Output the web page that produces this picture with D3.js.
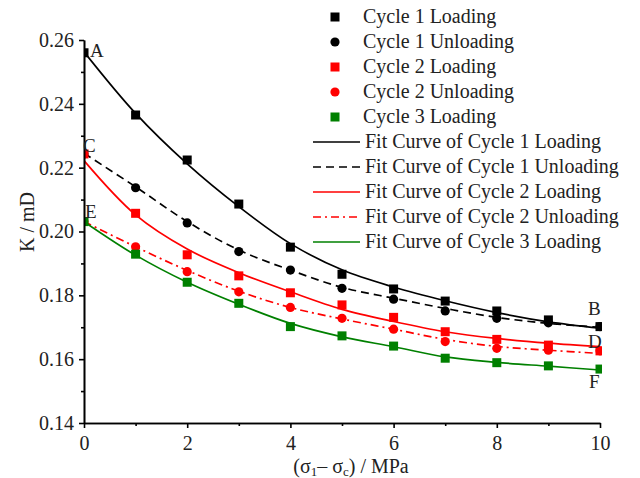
<!DOCTYPE html>
<html>
<head>
<meta charset="utf-8">
<script src="https://cdn.jsdelivr.net/npm/d3@7"></script>
<style>
  body { margin: 0; background: white; }
  text { font-family: "Liberation Serif", "Times New Roman", serif; }
</style>
</head>
<body>
<div id="chart"></div>
<script>
var width = 640
var height = 478
var margin = {top: 40, right: 40, bottom: 55, left: 84}

// Data

var stress = [0, 1, 2, 3, 4, 5, 6, 7, 8, 9, 10];

var c1Load   = [0.2560, 0.2365, 0.2224, 0.2086, 0.1951, 0.1866, 0.1820, 0.1782, 0.1751, 0.1723, 0.1702];
var c1Unload = [0.2243, 0.2137, 0.2027, 0.1937, 0.1879, 0.1822, 0.1788, 0.1751, 0.1728, 0.1714, 0.1702];
var c2Load   = [0.2243, 0.2057, 0.1927, 0.1861, 0.1808, 0.1770, 0.1731, 0.1686, 0.1662, 0.1644, 0.1626];
var c2Unload = [0.2031, 0.1952, 0.1874, 0.1811, 0.1762, 0.1728, 0.1694, 0.1655, 0.1634, 0.1628, 0.1626];
var c3Load   = [0.2031, 0.1929, 0.1841, 0.1775, 0.1702, 0.1673, 0.1641, 0.1603, 0.1589, 0.1579, 0.1569];

// fit curves at each integer stress
var fitC1Load   = [0.2563, 0.2370, 0.2212, 0.2078, 0.1962, 0.1880, 0.1826, 0.1783, 0.1746, 0.1717, 0.1697];
var fitC1Unload = [0.2245, 0.2140, 0.2031, 0.1942, 0.1879, 0.1825, 0.1791, 0.1759, 0.1731, 0.1712, 0.1700];
var fitC2Load   = [0.2222, 0.2052, 0.1945, 0.1871, 0.1811, 0.1756, 0.1718, 0.1686, 0.1665, 0.1650, 0.1639];
var fitC2Unload = [0.2031, 0.1952, 0.1878, 0.1813, 0.1762, 0.1726, 0.1694, 0.1662, 0.1640, 0.1628, 0.1618];
var fitC3Load   = [0.2031, 0.1926, 0.1841, 0.1772, 0.1712, 0.1670, 0.1639, 0.1607, 0.1590, 0.1578, 0.1566];

var xTicks = [0, 2, 4, 6, 8, 10];
var xMinor = [1, 3, 5, 7, 9];
var yTicks = [0.14, 0.16, 0.18, 0.20, 0.22, 0.24, 0.26];
var yMinor = [0.15, 0.17, 0.19, 0.21, 0.23, 0.25];

var pointSeries = [
    {name: "Cycle 1 Loading",   values: c1Load,   color: "black",   shape: "square"},
    {name: "Cycle 1 Unloading", values: c1Unload, color: "black",   shape: "circle"},
    {name: "Cycle 2 Loading",   values: c2Load,   color: "#ff0000", shape: "square"},
    {name: "Cycle 2 Unloading", values: c2Unload, color: "#ff0000", shape: "circle"},
    {name: "Cycle 3 Loading",   values: c3Load,   color: "#008000", shape: "square"}
];
var fitSeries = [
    {name: "Fit Curve of Cycle 1 Loading",   values: fitC1Load,   color: "black",   dash: null},
    {name: "Fit Curve of Cycle 1 Unloading", values: fitC1Unload, color: "black",   dash: "8,5"},
    {name: "Fit Curve of Cycle 2 Loading",   values: fitC2Load,   color: "#ff0000", dash: null},
    {name: "Fit Curve of Cycle 2 Unloading", values: fitC2Unload, color: "#ff0000", dash: "8,4,2,4"},
    {name: "Fit Curve of Cycle 3 Loading",   values: fitC3Load,   color: "#008000", dash: null}
];
var pointLabels = [
    {text: "A", x: 0,  y: 0.2563, dx: 6,   dy: 5},
    {text: "C", x: 0,  y: 0.2243, dx: -1,  dy: -2},
    {text: "E", x: 0,  y: 0.2031, dx: 1,   dy: -4},
    {text: "B", x: 10, y: 0.1702, dx: -12, dy: -12},
    {text: "D", x: 10, y: 0.1626, dx: -12, dy: -3},
    {text: "F", x: 10, y: 0.1569, dx: -11, dy: 19}
];

// Scales

var x_scale = d3.scaleLinear()
    .domain([0, 10])
    .range([margin.left, width - margin.right]);

var y_scale = d3.scaleLinear()
    .domain([0.14, 0.26])
    .range([height - margin.bottom, margin.top]);

var svg = d3.select("#chart")
    .append("svg")
    .attr("width", width)
    .attr("height", height)
    .style("background-color", "white");

svg.append("clipPath")
    .attr("id", "plot-clip")
    .append("rect")
    .attr("x", margin.left)
    .attr("y", margin.top - 2)
    .attr("width", x_scale(10) - margin.left + 2)
    .attr("height", y_scale(0.14) - margin.top + 2);

var plot = svg.append("g").attr("clip-path", "url(#plot-clip)");

// Fit curves

var line = d3.line()
    .x(function(d, i) { return x_scale(stress[i]); })
    .y(function(d) { return y_scale(d); })
    .curve(d3.curveCatmullRom);

plot.selectAll("path.fit")
    .data(fitSeries)
    .enter()
    .append("path")
    .attr("class", "fit")
    .attr("d", function(d) { return line(d.values); })
    .attr("fill", "none")
    .attr("stroke", function(d) { return d.color; })
    .attr("stroke-width", 1.7)
    .attr("stroke-dasharray", function(d) { return d.dash; });

// Points

var sq = 9;
var rad = 4.6;

function drawMarker(g, shape, color, cx, cy) {
    if (shape === "square") {
        g.append("rect")
            .attr("x", cx - sq / 2)
            .attr("y", cy - sq / 2)
            .attr("width", sq)
            .attr("height", sq)
            .attr("fill", color);
    } else {
        g.append("circle")
            .attr("cx", cx)
            .attr("cy", cy)
            .attr("r", rad)
            .attr("fill", color);
    }
}

pointSeries.forEach(function(s) {
    var g = plot.append("g");
    s.values.forEach(function(v, i) {
        drawMarker(g, s.shape, s.color, x_scale(stress[i]), y_scale(v));
    });
});

// Axes

var xAxis = d3.axisBottom(x_scale).tickValues(xTicks).tickSize(5).tickSizeOuter(0).tickFormat(d3.format("d"));
var xAxisMinor = d3.axisBottom(x_scale).tickValues(xMinor).tickSize(3).tickSizeOuter(0).tickFormat("");
var yAxis = d3.axisLeft(y_scale).tickValues(yTicks).tickSize(5).tickSizeOuter(0).tickFormat(d3.format(".2f"));
var yAxisMinor = d3.axisLeft(y_scale).tickValues(yMinor).tickSize(3).tickSizeOuter(0).tickFormat("");

var gx = svg.append("g")
    .attr("transform", "translate(0," + y_scale(0.14) + ")")
    .call(xAxis);
svg.append("g")
    .attr("transform", "translate(0," + y_scale(0.14) + ")")
    .call(xAxisMinor);
var gy = svg.append("g")
    .attr("transform", "translate(" + margin.left + ",0)")
    .call(yAxis);
svg.append("g")
    .attr("transform", "translate(" + margin.left + ",0)")
    .call(yAxisMinor);

svg.selectAll(".domain, .tick line")
    .attr("stroke", "black")
    .attr("stroke-width", 1.6);

svg.selectAll(".tick text")
    .style("font-family", "Liberation Serif")
    .style("font-size", "20px")
    .attr("fill", "#222");
gx.selectAll(".tick text").attr("dy", "0.95em");
gy.selectAll(".tick text").attr("x", -10);

// Axis titles

svg.append("text")
    .attr("x", 351)
    .attr("y", 473)
    .attr("text-anchor", "middle")
    .style("font-size", "20px")
    .attr("fill", "#222")
    .html("(σ<tspan baseline-shift='-25%' font-size='13px'>1</tspan>– σ<tspan baseline-shift='-25%' font-size='13px'>c</tspan>) / MPa");

svg.append("text")
    .attr("transform", "translate(34,222) rotate(-90)")
    .attr("text-anchor", "middle")
    .style("font-size", "20px")
    .attr("fill", "#222")
    .text("K / mD");

// Point letters

svg.selectAll("text.letter")
    .data(pointLabels)
    .enter()
    .append("text")
    .attr("class", "letter")
    .attr("x", function(d) { return x_scale(d.x) + d.dx; })
    .attr("y", function(d) { return y_scale(d.y) + d.dy; })
    .style("font-size", "19px")
    .attr("fill", "#222")
    .text(function(d) { return d.text; });

// Legend

var legend = svg.append("g");
var rowH = 25;
var legTop = 17;

pointSeries.forEach(function(s, i) {
    var cy = legTop + i * rowH;
    drawMarker(legend, s.shape, s.color, 335, cy);
    legend.append("text")
        .attr("x", 363)
        .attr("y", cy + 6)
        .style("font-size", "20px")
        .attr("fill", "#222")
        .text(s.name);
});

fitSeries.forEach(function(s, i) {
    var cy = legTop + (i + 5) * rowH;
    legend.append("line")
        .attr("x1", 313)
        .attr("x2", 360)
        .attr("y1", cy)
        .attr("y2", cy)
        .attr("stroke", s.color)
        .attr("stroke-width", 1.7)
        .attr("stroke-dasharray", s.dash);
    legend.append("text")
        .attr("x", 365)
        .attr("y", cy + 6)
        .style("font-size", "20px")
        .attr("fill", "#222")
        .text(s.name);
});
</script>
</body>
</html>
